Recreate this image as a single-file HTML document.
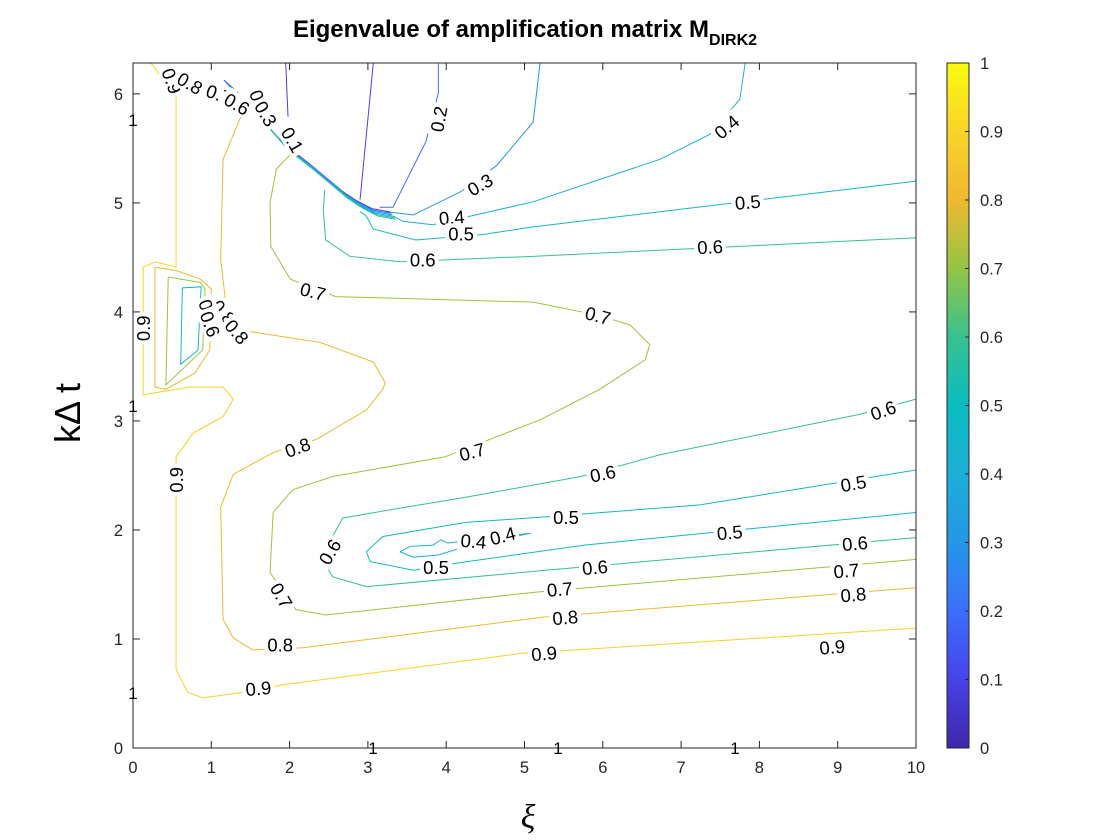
<!DOCTYPE html>
<html><head><meta charset="utf-8"><style>
body{margin:0;background:#fff;width:1120px;height:840px;overflow:hidden}
svg{display:block;font-family:"Liberation Sans",sans-serif}
</style></head><body>
<svg id="chart" width="1120" height="840">
<rect x="0" y="0" width="1120" height="840" fill="#fff"/>
<text x="525" y="37" text-anchor="middle" font-size="24" font-weight="bold">Eigenvalue of amplification matrix M<tspan font-size="16" dy="8">DIRK2</tspan></text>
<g id="plot"></g>
<text transform="translate(80,413) rotate(-90)" text-anchor="middle" font-size="36">kΔ t</text>
<text x="528" y="828" text-anchor="middle" font-size="34" font-style="italic" font-family="Liberation Serif,serif">ξ</text>
<defs><linearGradient id="parula" x1="0" y1="1" x2="0" y2="0">
<stop offset="0" stop-color="#3e26a8"/><stop offset="0.1" stop-color="#4743e8"/><stop offset="0.2" stop-color="#3b6ffd"/><stop offset="0.3" stop-color="#2497e6"/><stop offset="0.4" stop-color="#1caed8"/><stop offset="0.5" stop-color="#09bcbf"/><stop offset="0.6" stop-color="#38c18f"/><stop offset="0.7" stop-color="#94c545"/><stop offset="0.8" stop-color="#efb92f"/><stop offset="0.9" stop-color="#f9d32a"/><stop offset="1" stop-color="#f9fb0e"/></linearGradient></defs>
<g id="cbar"></g>
</svg>
<script>
const xTicks=[0,1,2,3,4,5,6,7,8,9,10];
const yTicks=[0,1,2,3,4,5,6];
const cbTicks=[0,0.1,0.2,0.3,0.4,0.5,0.6,0.7,0.8,0.9,1];
const levels=[0.9,0.8,0.7,0.6,0.6,0.5,0.5,0.4,0.4,0.3,0.2,0.1,0.1,0.8,0.7,0.5];
const lineXs=[
[0.22,0.55,0.55,0.29,0.13,0.13,0.29,0.73,1.15,1.28,1.15,0.77,0.55,0.55,0.70,0.89,1.40,1.92,4.98,5.66,10],
[1.17,1.40,1.15,1.12,1.19,1.49,2.39,3.07,3.22,3.19,2.98,2.34,1.79,1.28,1.12,1.15,1.28,1.53,2.17,5.24,10],
[1.98,2.02,1.83,1.75,1.76,2.01,2.59,5.11,5.94,6.35,6.60,6.54,5.96,5.20,3.98,2.55,2.04,1.79,1.75,2.08,2.46,5.15,10],
[10,9.28,6.73,5.72,4.25,3.41,2.68,2.40,2.55,2.98,5.27,10],
[2.45,2.43,2.46,2.77,3.41,5.11,10],
[10,7.24,5.27,4.25,3.19,2.98,3.03,3.58,4.18,5.75,10],
[2.90,2.98,3.07,3.61,4.47,5.11,10],
[3.41,3.54,3.83,3.93,4.02,5.08,4.30,3.90,3.58,3.41],
[3.32,3.45,3.83,4.38,5.11,6.73,7.37,7.75,7.82],
[3.22,3.58,4.18,4.64,5.11,5.20],
[3.15,3.32,3.74,3.90,3.90],
[2.90,3.07],
[1.98,1.95],
[0.28,0.55,0.86,1.00,0.98,0.79,0.42,0.28,0.28],
[0.45,0.86,0.92,0.89,0.42,0.45],
[0.63,0.87,0.83,0.61,0.63]];
const lineYs=[
[6.29,5.98,4.41,4.46,4.41,3.24,3.26,3.31,3.31,3.20,3.04,2.89,2.67,0.72,0.51,0.46,0.51,0.58,0.87,0.90,1.10],
[6.06,5.83,5.40,4.48,4.05,3.82,3.72,3.54,3.35,3.29,3.10,2.83,2.71,2.51,2.21,1.18,1.01,0.90,0.92,1.20,1.47],
[5.51,5.45,5.31,5.00,4.60,4.30,4.14,4.09,3.97,3.88,3.70,3.56,3.29,3.01,2.67,2.49,2.37,2.16,1.61,1.27,1.22,1.43,1.73],
[3.20,3.06,2.69,2.49,2.30,2.20,2.11,1.75,1.57,1.48,1.63,1.93],
[5.12,4.94,4.66,4.51,4.46,4.51,4.68],
[2.55,2.23,2.12,2.07,1.94,1.80,1.71,1.63,1.70,1.86,2.16],
[4.92,4.88,4.76,4.66,4.71,4.78,5.20],
[1.80,1.85,1.86,1.91,1.88,1.97,1.86,1.77,1.75,1.80],
[4.88,4.83,4.80,4.89,5.01,5.40,5.63,5.95,6.29],
[4.92,4.89,5.10,5.34,5.74,6.29],
[4.96,4.96,5.56,6.01,6.29],
[5.03,6.29],
[5.79,6.29],
[4.41,4.38,4.30,4.21,3.65,3.44,3.29,3.31,4.41],
[4.32,4.27,4.21,3.65,3.33,4.32],
[4.22,4.23,3.65,3.52,4.22]];
const ridgeX=[1.20,1.43,1.88,2.01,2.26,2.71,2.90,3.09,3.32];
const ridgeY=[6.10,5.95,5.58,5.49,5.35,5.08,4.99,4.92,4.89];
const ridgeLevels=[0.1,0.2,0.3,0.4,0.5,0.6];
const labelText=["0.9","0.8","0.7","0.6","0.2","0.3","0.1","0.1","0.2","0.3","0.4","0.5","0.6","0.7","0.4","0.5","0.6","0.7","0.8","0.9","0.8","0.6","0.9","0.9","0.8","0.7","0.6","0.6","0.5","0.5","0.4","0.4","0.6","0.5","0.6","0.5","0.6","0.7","0.7","0.7","0.8","0.8","0.8","0.9","0.9","0.9"];
const labelX=[0.5,0.73,1.1,1.33,1.62,1.7,2.04,2.04,3.9,4.43,4.07,4.19,3.7,2.3,7.58,7.85,7.37,5.94,1.16,0.97,1.33,0.99,0.13,0.55,2.1,4.33,6.0,9.58,9.2,5.53,4.35,4.72,2.51,3.87,5.9,7.62,9.22,5.45,9.11,1.9,5.52,1.88,9.2,1.6,5.25,8.93];
const labelY=[6.12,6.1,6.0,5.91,5.92,5.82,5.58,5.58,5.77,5.17,4.87,4.72,4.48,4.19,5.7,5.01,4.6,3.97,4.0,4.0,3.82,3.89,3.85,2.46,2.76,2.72,2.52,3.1,2.43,2.12,1.9,1.95,1.8,1.66,1.66,1.98,1.88,1.46,1.63,1.4,1.2,0.95,1.41,0.55,0.87,0.93];
const labelRot=[70,30,20,30,70,60,60,60,-80,-30,-5,0,0,15,-40,-5,-3,15,50,70,50,70,-90,-90,-20,-15,-12,-20,-10,0,5,-15,-60,0,-5,-5,-5,-5,-5,60,-5,0,-5,-5,-5,-5];
const X0=133,X1=916,Y0=748,Y1=63,YMAX=6.2832;
const sx=v=>X0+(X1-X0)*v/10;
const sy=v=>Y0-(Y0-Y1)*v/YMAX;
const cmap=v=>{const c={0.1:"#4743e8",0.2:"#3b6ffd",0.3:"#2497e6",0.4:"#1caed8",0.5:"#12b8c2",0.6:"#35c196",0.7:"#9ac43f",0.8:"#edb82f",0.9:"#f7d12a"};return c[Math.round(v*10)/10]||"#888";};
const NS="http://www.w3.org/2000/svg";
const plot=document.getElementById('plot');
function mk(tag,attrs,parent){const e=document.createElementNS(NS,tag);for(const k in attrs)e.setAttribute(k,attrs[k]);(parent||plot).appendChild(e);return e;}
const clip=mk('clipPath',{id:'pc'});mk('rect',{x:X0,y:Y1,width:X1-X0,height:Y0-Y1},clip);
const lg=mk('g',{'clip-path':'url(#pc)'});


for(let i=0;i<levels.length;i++){
  const p=mk('polyline',{points:lineXs[i].map((x,j)=>sx(x)+','+sy(lineYs[i][j])).join(' '),fill:'none',stroke:cmap(levels[i]),'stroke-width':1},lg);
  
  
}
ridgeLevels.forEach((lv,k)=>{
  const p=mk('polyline',{points:ridgeX.map((x,j)=>(sx(x)+k*1.2-3)+','+(sy(ridgeY[j])+k*1.5-3)).join(' '),fill:'none',stroke:cmap(lv),'stroke-width':1},lg);
  
  
});
for(let i=0;i<labelText.length;i++){
  const x=sx(labelX[i]),y=sy(labelY[i]);
  const g=mk('g',{transform:`translate(${x},${y}) rotate(${labelRot[i]})`});
  
  
  mk('rect',{x:-16,y:-10,width:32,height:20,fill:'#fff'},g);
  const t=mk('text',{x:0,y:7,'text-anchor':'middle','font-size':18.5},g);t.textContent=labelText[i];
}
const box=mk('rect',{x:X0,y:Y1,width:X1-X0,height:Y0-Y1,fill:'none',stroke:'#262626','stroke-width':1});


xTicks.forEach(v=>{const x=sx(v);
  mk('line',{x1:x,y1:Y0,x2:x,y2:Y0-7,stroke:'#262626'});mk('line',{x1:x,y1:Y1,x2:x,y2:Y1+7,stroke:'#262626'});
  const t=mk('text',{x:x,y:Y0+25,'text-anchor':'middle','font-size':16.5,fill:'#262626'});t.textContent=v;
  
  });
yTicks.forEach(v=>{const y=sy(v);
  mk('line',{x1:X0,y1:y,x2:X0+7,y2:y,stroke:'#262626'});mk('line',{x1:X1,y1:y,x2:X1-7,y2:y,stroke:'#262626'});
  const t=mk('text',{x:X0-10,y:y+6,'text-anchor':'end','font-size':16.5,fill:'#262626'});t.textContent=v;
  
  });
[[133,126],[133,412],[133,699],[373,754],[558,754],[735,754]].forEach(p=>{const t=mk('text',{x:p[0],y:p[1],'text-anchor':'middle','font-size':17});t.textContent='1';
  
  });
const cb=document.getElementById('cbar');
const CX=947,CW=22;
const cr=mk('rect',{x:CX,y:Y1,width:CW,height:Y0-Y1,fill:'url(#parula)',stroke:'#262626','stroke-width':1},cb);


cbTicks.forEach(v=>{const y=Y0-(Y0-Y1)*v;
  mk('line',{x1:CX+CW-4,y1:y,x2:CX+CW,y2:y,stroke:'#262626'},cb);
  const t=mk('text',{x:CX+CW+11,y:y+6,'font-size':16.5,fill:'#262626'},cb);t.textContent=v;
  
  });
</script>
</body></html>
